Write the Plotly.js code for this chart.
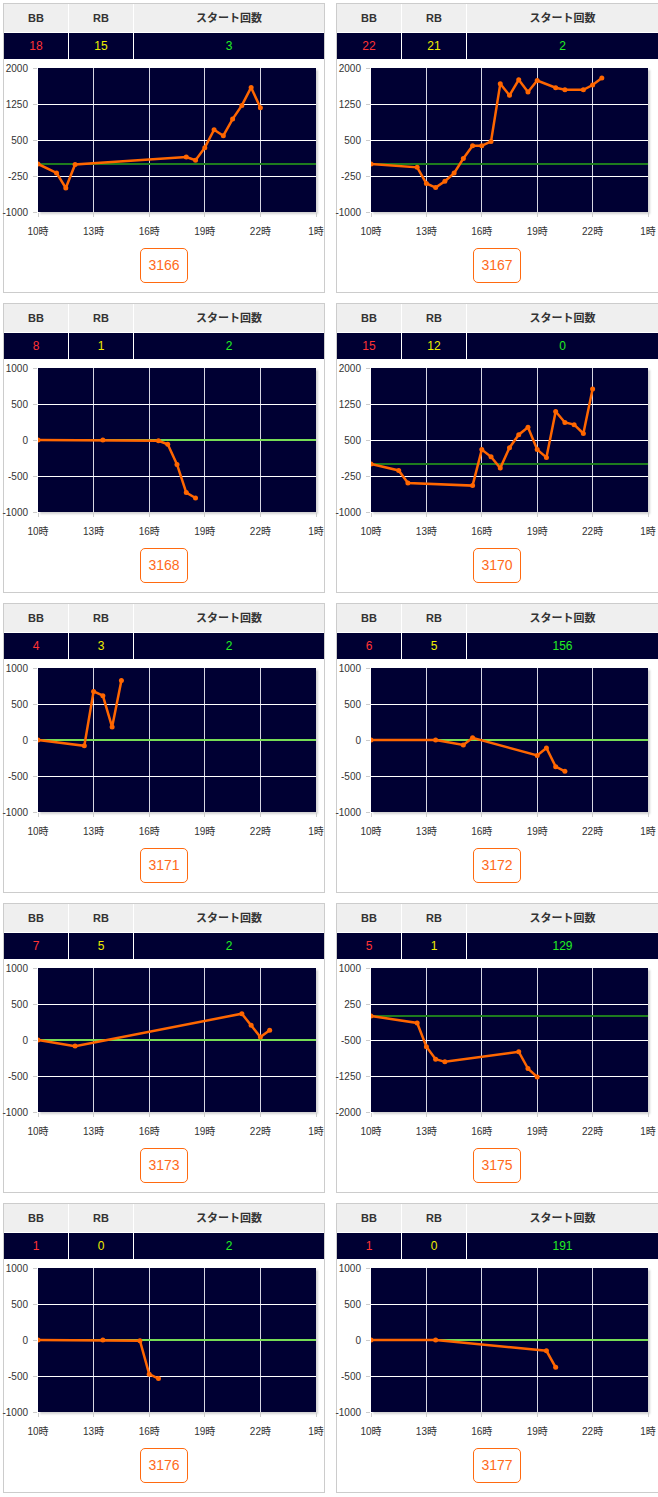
<!DOCTYPE html>
<html>
<head>
<meta charset="utf-8">
<script src="https://cdn.plot.ly/plotly-3.0.1.min.js"></script>
<style>
  html, body { margin:0; padding:0; background:#fff; width:658px; height:1497px; overflow:hidden; }
  .panel { position:absolute; box-sizing:border-box; border:1px solid #cccccc; background:#fff; height:290px; }
  .cell { position:absolute; box-sizing:border-box; text-align:center; font-family:"Liberation Sans","Noto Sans CJK JP",sans-serif; }
  .hcell { background:#efefef; color:#333; font-weight:bold; font-size:11px; line-height:28px; height:28px; }
  .vcell { background:#000033; font-size:12px; line-height:26px; height:26px; }
  .shadow { position:absolute; box-shadow:2px 2px 2px rgba(0,0,0,0.18); background:#000033; }
  .chart { position:absolute; }
  .numbox { position:absolute; box-sizing:border-box; width:48px; height:35px; border:1px solid #ff6a10; border-radius:5px;
            color:#ff6a1a; font-family:"Liberation Sans",sans-serif; font-size:14px; line-height:33px; text-align:center; background:#fff; }
</style>
</head>
<body>
<script>
// ---- data ----
const machines    = ['3166','3167','3168','3170','3171','3172','3173','3175','3176','3177'];
const bbCounts    = [18, 22, 8, 15, 4, 6, 7, 5, 1, 1];
const rbCounts    = [15, 21, 1, 12, 3, 5, 5, 1, 0, 0];
const startCounts = [3, 2, 2, 0, 2, 156, 2, 129, 2, 191];

const headerLabels = ['BB', 'RB', 'スタート回数'];
const xTickVals    = [10, 13, 16, 19, 22, 25];
const xTickLabels  = ['10時', '13時', '16時', '19時', '22時', '1時'];

const hours3166  = [10, 11, 11.5, 12, 18, 18.5, 19, 19.5, 20, 20.5, 21, 21.5, 22];
const values3166 = [0, -185, -500, -10, 145, 80, 340, 715, 590, 935, 1220, 1595, 1170];

const hours3167  = [10, 12.5, 13, 13.5, 14, 14.5, 15, 15.5, 16, 16.5, 17, 17.5, 18, 18.5, 19, 20, 20.5, 21.5, 22, 22.5];
const values3167 = [0, -70, -405, -490, -360, -190, 115, 380, 380, 470, 1670, 1430, 1755, 1500, 1740, 1590, 1545, 1545, 1645, 1790];

const hours3168  = [10, 13.5, 16.5, 17, 17.5, 18, 18.5];
const values3168 = [0, 0, -10, -60, -340, -730, -805];

const hours3170  = [10, 11.5, 12, 15.5, 16, 16.5, 17, 17.5, 18, 18.5, 19, 19.5, 20, 20.5, 21, 21.5, 22];
const values3170 = [0, -135, -395, -450, 300, 150, -85, 340, 610, 765, 300, 135, 1095, 865, 820, 635, 1565];

const hours3171  = [10, 12.5, 13, 13.5, 14, 14.5];
const values3171 = [0, -80, 675, 615, 180, 825];

const hours3172  = [10, 13.5, 15, 15.5, 19, 19.5, 20, 20.5];
const values3172 = [0, 0, -70, 30, -215, -110, -370, -435];

const hours3173  = [10, 12, 21, 21.5, 22, 22.5];
const values3173 = [0, -85, 365, 205, 40, 135];

const hours3175  = [10, 12.5, 13, 13.5, 14, 18, 18.5, 19];
const values3175 = [0, -145, -640, -900, -955, -745, -1095, -1270];

const hours3176  = [10, 13.5, 15.5, 16, 16.5];
const values3176 = [0, 0, -10, -475, -535];

const hours3177  = [10, 13.5, 19.5, 20];
const values3177 = [0, 0, -150, -380];

const hoursList  = [hours3166, hours3167, hours3168, hours3170, hours3171, hours3172, hours3173, hours3175, hours3176, hours3177];
const valuesList = [values3166, values3167, values3168, values3170, values3171, values3172, values3173, values3175, values3176, values3177];

const yMins = [-1000, -1000, -1000, -1000, -1000, -1000, -1000, -2000, -1000, -1000];
const yMaxs = [ 2000,  2000,  1000,  2000,  1000,  1000,  1000,  1000,  1000,  1000];

// ---- build page ----
const valueColors = ['#ff3333', '#eeee00', '#22ee22'];
const FONT = '"Liberation Sans","Noto Sans CJK JP",sans-serif';

function el(cls, style, text) {
  const d = document.createElement('div');
  d.className = cls;
  Object.assign(d.style, style);
  if (text !== undefined) d.textContent = text;
  document.body.appendChild(d);
  return d;
}

machines.forEach((m, i) => {
  const col = i % 2, row = Math.floor(i / 2);
  const top = 3 + 300 * row;
  const pLeft = col === 0 ? 3 : 336;
  const pWidth = col === 0 ? 322 : 324;
  el('panel', {left: pLeft + 'px', top: top + 'px', width: pWidth + 'px'});

  // table
  const x0 = pLeft + 1;
  const colX = [x0, x0 + 65, x0 + 130];
  const colW = [64, 64, (col === 0 ? 320 : 321) - 130];
  const vals = [bbCounts[i], rbCounts[i], startCounts[i]];
  for (let c = 0; c < 3; c++) {
    el('cell hcell', {left: colX[c] + 'px', top: (top + 1) + 'px', width: colW[c] + 'px'}, headerLabels[c]);
    el('cell vcell', {left: colX[c] + 'px', top: (top + 30) + 'px', width: colW[c] + 'px', color: valueColors[c]}, String(vals[c]));
  }

  // chart
  const cLeft = col === 0 ? 0 : 330;
  const cWidth = col === 0 ? 330 : 328;
  const mL = col === 0 ? 38 : 41;
  const mR = col === 0 ? 14 : 10;
  const cTop = top + 57;
  const cHeight = 190;
  const mT = 8, mB = 38;
  el('shadow', {left: (cLeft + mL) + 'px', top: (cTop + mT) + 'px', width: (cWidth - mL - mR) + 'px', height: (cHeight - mT - mB) + 'px'});
  const div = el('chart', {left: cLeft + 'px', top: cTop + 'px', width: cWidth + 'px', height: cHeight + 'px'});

  const ymin = yMins[i], ymax = yMaxs[i];
  const step = (ymax - ymin) / 4;
  const yTicks = [0, 1, 2, 3, 4].map(k => ymin + k * step);
  const zeroOnGrid = yTicks.indexOf(0) >= 0;

  Plotly.newPlot(div, [{
    x: hoursList[i], y: valuesList[i], type: 'scatter', mode: 'lines+markers',
    line: {color: '#ff6600', width: 2.5}, marker: {color: '#ff6600', size: 5},
    hoverinfo: 'skip'
  }], {
    width: cWidth, height: cHeight,
    margin: {l: mL, r: mR, t: mT, b: mB, pad: 0},
    paper_bgcolor: 'rgba(0,0,0,0)', plot_bgcolor: '#000033',
    showlegend: false,
    xaxis: {
      range: [10, 25], tickmode: 'array', tickvals: xTickVals, ticktext: xTickLabels,
      showgrid: true, gridcolor: '#d6d6e2', gridwidth: 1, zeroline: false, showline: false,
      ticks: 'outside', ticklen: 4, tickcolor: '#cccccc', ticklabelstandoff: 6,
      tickfont: {family: FONT, size: 10, color: '#333'}, fixedrange: true
    },
    yaxis: {
      range: [ymin, ymax], tickmode: 'array', tickvals: yTicks, ticktext: yTicks.map(String),
      showgrid: true, gridcolor: '#ffffff', gridwidth: 1,
      zeroline: true, zerolinecolor: zeroOnGrid ? '#77dd55' : '#1e7b1e', zerolinewidth: 2,
      showline: false, ticks: 'outside', ticklen: 4, tickcolor: '#cccccc', ticklabelstandoff: 3,
      tickfont: {family: FONT, size: 10, color: '#333'}, fixedrange: true
    }
  }, {staticPlot: true, displayModeBar: false});

  // number box
  const boxLeft = col === 0 ? 140 : 473;
  el('numbox', {left: boxLeft + 'px', top: (top + 245) + 'px'}, m);
});
</script>
</body>
</html>
